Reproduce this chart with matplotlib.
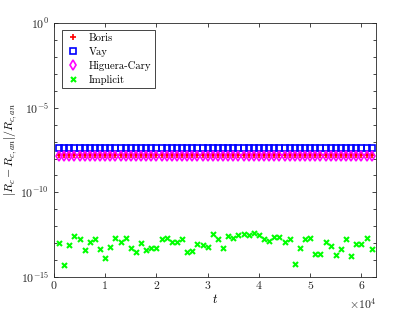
import numpy as np
import matplotlib
matplotlib.use("Agg")
import matplotlib.pyplot as plt

plt.rcParams['font.family'] = 'serif'
plt.rcParams['font.serif'] = ['cmr10']
plt.rcParams['mathtext.fontset'] = 'cm'
plt.rcParams['axes.formatter.use_mathtext'] = True

# time samples, every 1000 up to 62000
t = np.arange(1, 63) * 1000.0

# relative error levels (log10)
boris_log = np.full(62, -7.82)
vay_log = np.full(62, -7.40)
hc_log = np.full(62, -7.88)
implicit_log = np.array([
    -12.98, -14.30, -13.12, -12.59, -12.78, -13.41, -12.92, -12.78, -13.37, -13.87,
    -13.26, -12.68, -12.92, -12.68, -13.31, -13.55, -13.02, -13.41, -13.31, -13.31,
    -12.78, -12.68, -12.92, -12.92, -12.78, -13.51, -13.47, -13.08, -13.12, -13.22,
    -12.49, -12.78, -13.31, -12.59, -12.68, -12.53, -12.49, -12.53, -12.43, -12.53,
    -12.78, -12.86, -12.63, -12.63, -12.92, -12.78, -14.24, -13.31, -12.78, -12.68,
    -13.67, -13.67, -12.96, -13.18, -13.71, -13.37, -12.78, -13.75, -13.08, -13.08,
    -12.68, -13.37])

fig = plt.figure(figsize=(4.15, 3.12), dpi=100)
ax = fig.add_axes([0.130, 0.113, 0.776, 0.812])

ms = 4.2
ax.semilogy(t, 10**boris_log, '+', color=(1, 0, 0), ms=ms, mew=1.2, label='Boris')
ax.semilogy(t, 10**vay_log, 's', color=(0, 0, 1), mfc='none', ms=ms, mew=1.2, label='Vay')
ax.semilogy(t, 10**hc_log, 'd', color=(1, 0, 1), mfc='none', ms=ms + 0.6, mew=1.2, label='Higuera-Cary')
ax.semilogy(t, 10**implicit_log, 'x', color=(0, 1, 0), ms=3.6, mew=1.5, label='Implicit')

ax.set_xlim(0, 2 * np.pi * 1e4)
ax.set_ylim(1e-15, 1e0)
ax.set_yticks([1e-15, 1e-10, 1e-5, 1e0])
ax.set_yticks([10.0**k for k in range(-15, 1)], minor=True)
ax.yaxis.set_minor_formatter(matplotlib.ticker.NullFormatter())
ax.set_xticks(np.arange(0, 7) * 1e4)
ax.set_xticklabels([str(k) for k in range(7)])
ax.text(1.0, -0.075, r'$\times10^4$', transform=ax.transAxes, ha='right', va='top', fontsize=8.5, color='#262626')

ax.tick_params(which='both', direction='in', top=True, right=True, labelsize=8.5,
               colors='#262626', width=0.6)
ax.tick_params(which='major', length=3)
ax.tick_params(which='minor', length=2)
for s in ax.spines.values():
    s.set_color('#262626')
    s.set_linewidth(0.6)

ax.set_xlabel(r'$t$', fontsize=9, labelpad=1)
ax.set_ylabel(r'$|R_c - R_{c,an}|/R_{c,an}$', fontsize=8.5, labelpad=1)

leg = ax.legend(loc='upper left', bbox_to_anchor=(0.024, 0.974), borderaxespad=0, fontsize=7.7,
                fancybox=False, edgecolor='#262626', framealpha=1,
                handletextpad=0.75, borderpad=0.3, labelspacing=0.37, handlelength=1.5)
leg.get_frame().set_linewidth(0.6)

fig.savefig('out.png', dpi=100)
